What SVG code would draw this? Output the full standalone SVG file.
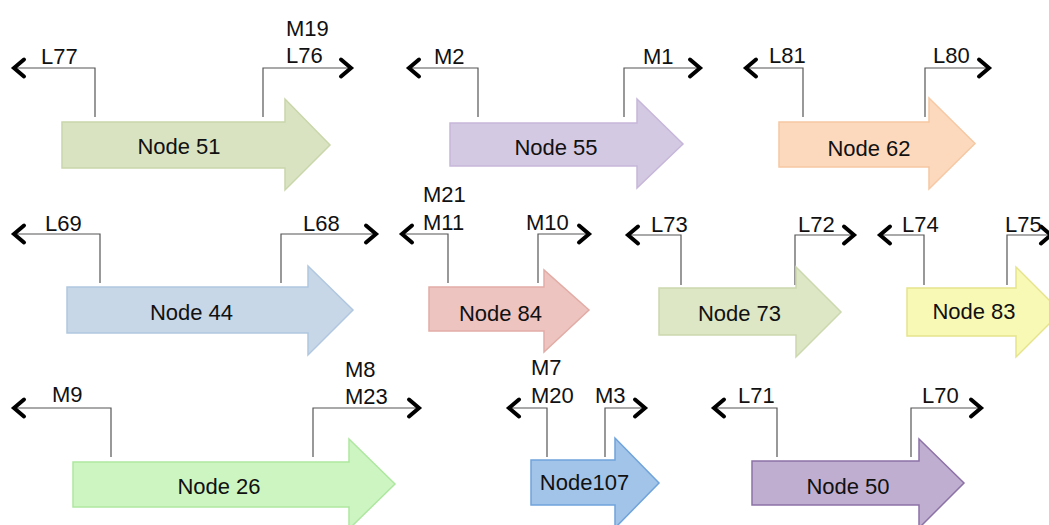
<svg xmlns="http://www.w3.org/2000/svg" width="1049" height="525" viewBox="0 0 1049 525">
<style>
text{font-family:"Liberation Sans",Arial,Helvetica,sans-serif;font-size:22px;fill:#111}
.n{text-anchor:middle}
.c{fill:none;stroke:#555;stroke-width:1.2;marker-end:url(#ch)}
.s{stroke-width:1.5}
</style>
<defs>
<marker id="ch" markerUnits="userSpaceOnUse" orient="auto" markerWidth="24" markerHeight="24" viewBox="-14 -12 18 24" refX="0" refY="0" overflow="visible">
<path d="M-10,-8.5 L0,0 L-10,8.5" fill="none" stroke="#000" stroke-width="4" stroke-linecap="round" stroke-linejoin="miter"/>
</marker>
</defs>
<rect width="1049" height="525" fill="#fff"/>
<g id="connectors">
<polyline class="c" points="95,117 95,68 14,68"/>
<polyline class="c" points="263,117 263,68 351,68"/>
<polyline class="c" points="478,117 478,68 409,68"/>
<polyline class="c" points="624,117 624,68 700,68"/>
<polyline class="c" points="803,117 803,68 746,68"/>
<polyline class="c" points="925,117 925,68 989,68"/>
<polyline class="c" points="100,283 100,234 14,234"/>
<polyline class="c" points="281,283 281,234 376,234"/>
<polyline class="c" points="448,283 448,234 402,234"/>
<polyline class="c" points="538,283 538,234 589,234"/>
<polyline class="c" points="681,285 681,235 628,235"/>
<polyline class="c" points="795,285 795,235 854,235"/>
<polyline class="c" points="924,285 924,235 880,235"/>
<polyline class="c" points="1007,285 1007,235 1051,235"/>
<polyline class="c" points="111,457 111,408 14,408"/>
<polyline class="c" points="313,457 313,408 419,408"/>
<polyline class="c" points="547,457 547,408 509,408"/>
<polyline class="c" points="605,457 605,408 645,408"/>
<polyline class="c" points="777,457 777,408 714,408"/>
<polyline class="c" points="911,457 911,408 981,408"/>
</g>
<g id="labels">
<text x="41" y="64">L77</text>
<text x="286" y="36">M19</text>
<text x="286" y="63">L76</text>
<text x="434" y="64">M2</text>
<text x="643" y="64">M1</text>
<text x="769" y="63">L81</text>
<text x="933" y="63">L80</text>
<text x="45" y="231">L69</text>
<text x="303" y="231">L68</text>
<text x="423" y="202">M21</text>
<text x="423" y="230">M11</text>
<text x="526" y="230">M10</text>
<text x="651" y="232">L73</text>
<text x="798" y="232">L72</text>
<text x="902" y="232">L74</text>
<text x="1005" y="232">L75</text>
<text x="52" y="402">M9</text>
<text x="345" y="377">M8</text>
<text x="345" y="404">M23</text>
<text x="531" y="375">M7</text>
<text x="531" y="403">M20</text>
<text x="595" y="403">M3</text>
<text x="738" y="403">L71</text>
<text x="922" y="403">L70</text>
</g>
<g id="node51"><path class="s" d="M62,122H285V99L330,145L285,190V168H62Z" fill="#d9e3c1" stroke="#c9d6aa"/><text class="n" x="179" y="154">Node 51</text></g>
<g id="node55"><path class="s" d="M450,123H637V99L683,144L637,188V166H450Z" fill="#d4c9e2" stroke="#c6b7da"/><text class="n" x="556" y="155">Node 55</text></g>
<g id="node62"><path class="s" d="M779,122H929V98L975,143.5L929,189V167H779Z" fill="#fcd9bd" stroke="#f6c8a3"/><text class="n" x="869" y="156">Node 62</text></g>
<g id="node44"><path class="s" d="M67,287H308V266L353,310L308,355V333H67Z" fill="#c7d7e8" stroke="#b0c7df"/><text class="n" x="191.5" y="320">Node 44</text></g>
<g id="node84"><path class="s" d="M429,287H544V270L589,310L544,352V331H429Z" fill="#edc4c0" stroke="#e2aca6"/><text class="n" x="500.5" y="321">Node 84</text></g>
<g id="node73"><path class="s" d="M659,288H796V267L841,312L796,357V335H659Z" fill="#dde6c5" stroke="#ccd8ae"/><text class="n" x="739.5" y="321">Node 73</text></g>
<g id="node83"><path class="s" d="M907,288H1016V267L1061,312L1016,357V336H907Z" fill="#f9f9b6" stroke="#e5e48c"/><text class="n" x="974" y="319">Node 83</text></g>
<g id="node26"><path class="s" d="M73,462H349V439L395,484L349,529V507H73Z" fill="#ccf5c2" stroke="#aee7a0"/><text class="n" x="219" y="494">Node 26</text></g>
<g id="node107"><path class="s" d="M531,460H615V438L659,483L615,528V505H531Z" fill="#a2c4e8" stroke="#6fa3dc"/><text class="n" x="584.5" y="490">Node107</text></g>
<g id="node50"><path class="s" d="M752,461H919V439L964,483L919,528V505H752Z" fill="#bfaed0" stroke="#8c72a6"/><text class="n" x="848" y="494">Node 50</text></g>
</svg>
